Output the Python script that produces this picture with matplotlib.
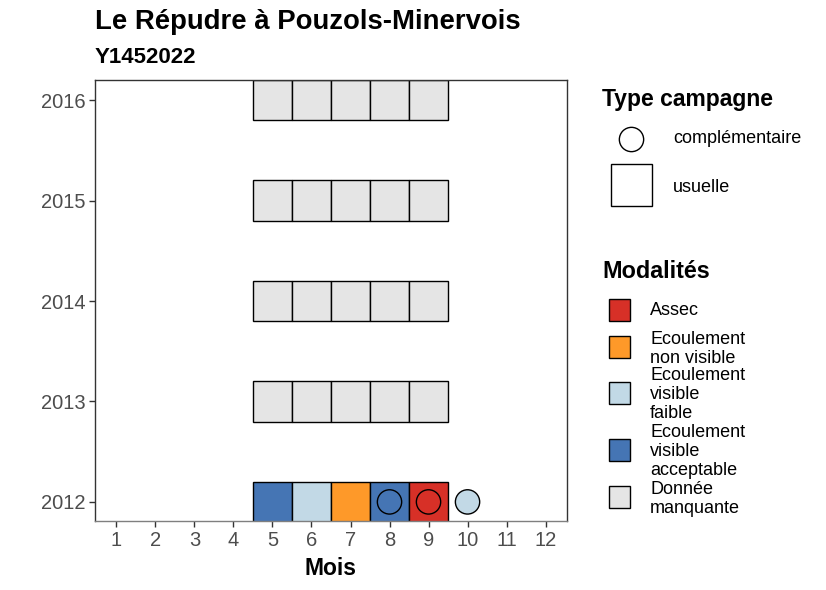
import matplotlib
matplotlib.use("Agg")
import matplotlib.pyplot as plt
from matplotlib.patches import Rectangle
from matplotlib.lines import Line2D

plt.rcParams['font.family'] = ['Liberation Sans', 'DejaVu Sans']

# données
mois_usuelle = [5, 6, 7, 8, 9, 5, 6, 7, 8, 9, 5, 6, 7, 8, 9, 5, 6, 7, 8, 9, 5, 6, 7, 8, 9]
annee_usuelle = [2012] * 5 + [2013] * 5 + [2014] * 5 + [2015] * 5 + [2016] * 5
modalite_usuelle = ["Ecoulement visible acceptable", "Ecoulement visible faible",
                    "Ecoulement non visible", "Ecoulement visible acceptable", "Assec"] \
                   + ["Donnée manquante"] * 20

mois_compl = [8, 9, 10]
annee_compl = [2012, 2012, 2012]
modalite_compl = ["Ecoulement visible acceptable", "Assec", "Ecoulement visible faible"]

modalites = ["Assec", "Ecoulement non visible", "Ecoulement visible faible",
             "Ecoulement visible acceptable", "Donnée manquante"]
labels_modalites = ["Assec", "Ecoulement\nnon visible", "Ecoulement\nvisible\nfaible",
                    "Ecoulement\nvisible\nacceptable", "Donnée\nmanquante"]
couleurs = ["#D73027", "#FE9929", "#C2D9E6", "#4575B4", "#E5E5E5"]
col = dict(zip(modalites, couleurs))

W, H = 826, 590
fig = plt.figure(figsize=(W / 100, H / 100), dpi=100)

def fx(px):
    return px / W

def fy(py):
    return 1 - py / H

ax = fig.add_axes([fx(95), fy(521), fx(567) - fx(95), fy(80) - fy(521)])

for m, a, mod in zip(mois_usuelle, annee_usuelle, modalite_usuelle):
    ax.add_patch(Rectangle((m - 0.5, a - 0.2), 1, 0.4, facecolor=col[mod],
                           edgecolor="black", linewidth=1))

ax.scatter(mois_compl, annee_compl, s=17.5 ** 2, c=[col[m] for m in modalite_compl],
           edgecolors="black", linewidths=1, zorder=3)

ax.set_xlim(0.45, 12.55)
ax.set_ylim(2011.81, 2016.2)
ax.set_xticks(range(1, 13))
ax.set_yticks(range(2012, 2017))
ax.tick_params(colors="#333333", labelcolor="#4D4D4D", labelsize=14.5, length=4,
               width=1, pad=3)
for s in ax.spines.values():
    s.set_color("#333333")
    s.set_linewidth(1)
ax.spines["bottom"].set_color("#7F7F7F")
ax.set_xlabel("Mois", fontsize=16.5, fontweight="bold", labelpad=5)

fig.text(fx(95), fy(29), "Le Répudre à Pouzols-Minervois", fontsize=19.8,
         fontweight="bold", va="baseline")
fig.text(fx(95), fy(63), "Y1452022", fontsize=16, fontweight="bold", va="baseline")

# légende type campagne
fig.text(fx(602), fy(106), "Type campagne", fontsize=16.5, fontweight="bold", va="baseline")
fig.add_artist(Line2D([fx(631)], [fy(138.5)], marker="o", markersize=17.5,
                      markerfacecolor="white", markeredgecolor="black",
                      markeredgewidth=1, linestyle="none"))
fig.text(fx(673), fy(143), "complémentaire", fontsize=13, va="baseline")
fig.add_artist(Rectangle((fx(611), fy(206)), fx(41), fy(0) - fy(42),
                         facecolor="white", edgecolor="black", linewidth=1,
                         transform=fig.transFigure))
fig.text(fx(673), fy(192), "usuelle", fontsize=13, va="baseline")

# légende modalités
fig.text(fx(602), fy(278), "Modalités", fontsize=16.8, fontweight="bold", va="baseline")
ycent = [310, 347, 393, 450, 497]
ybase = [315, 363, 418, 475, 513]  # ligne de base de la dernière ligne
for lab, c, yc, yb in zip(labels_modalites, couleurs, ycent, ybase):
    fig.add_artist(Rectangle((fx(609), fy(yc + 11)), fx(21), fy(0) - fy(22),
                             facecolor=c, edgecolor="black", linewidth=1,
                             transform=fig.transFigure))
    fig.text(fx(650), fy(yb), lab, fontsize=13, va="baseline", linespacing=1.16)

fig.savefig("out.png", dpi=100)
